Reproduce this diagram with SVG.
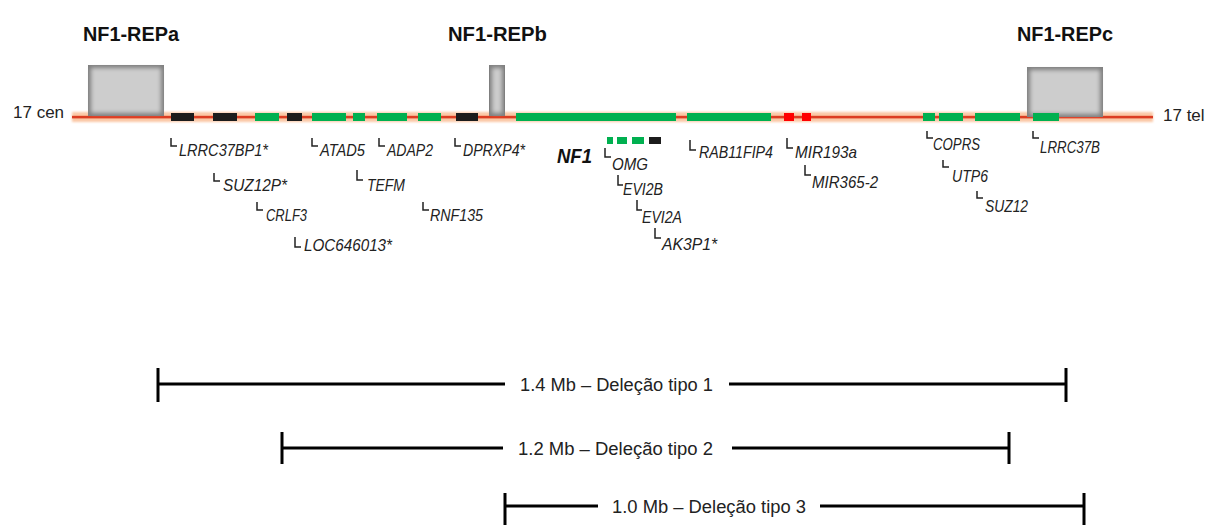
<svg xmlns="http://www.w3.org/2000/svg" width="1214" height="525" viewBox="0 0 1214 525">
  <defs>
    <filter id="soft" x="-20%" y="-20%" width="140%" height="140%">
      <feGaussianBlur stdDeviation="2.2"/>
    </filter>
    <filter id="halo" x="-2%" y="-60%" width="104%" height="220%">
      <feGaussianBlur stdDeviation="1"/>
    </filter>
  </defs>
  <style>
    .title { font-family: "Liberation Sans", Arial, sans-serif; font-weight: bold; font-size: 21px; fill: #111; }
    .end { font-family: "Liberation Sans", Arial, sans-serif; font-size: 17px; fill: #222; }
    .gene { font-family: "Liberation Sans", Arial, sans-serif; font-style: italic; font-size: 17px; fill: #222; }
    .nf1 { font-family: "Liberation Sans", Arial, sans-serif; font-style: italic; font-weight: bold; font-size: 21px; fill: #111; }
    .span { font-family: "Liberation Sans", Arial, sans-serif; font-size: 18px; fill: #222; }
    .tick { fill: none; stroke: #222; stroke-width: 1.5; }
    .bar { stroke: #000; stroke-width: 3; fill: none; }
    .g { fill: #00b050; }
    .k { fill: #1c1c1c; }
    .r { fill: #ff0000; }
    .rep-edge { fill: #7f7f7f; }
    .rep-core { fill: #cdcdcd; filter: url(#soft); }
  </style>

  <!-- chromosome 17 axis: soft peach band with a red core -->
  <g id="chromosome">
    <rect x="72" y="112" width="1081" height="10" fill="#fbc8a6" filter="url(#halo)"/>
    <rect x="72" y="115.8" width="1081" height="2.6" fill="#dc3d22"/>
  </g>

  <!-- low-copy repeats -->
  <g id="rep-a">
    <rect class="rep-edge" x="88" y="65" width="76" height="51"/>
    <rect class="rep-core" x="91" y="68" width="70" height="45"/>
    <text class="title" x="83" y="41" textLength="96" lengthAdjust="spacingAndGlyphs">NF1-REPa</text>
  </g>
  <g id="rep-b">
    <rect class="rep-edge" x="489" y="65" width="16" height="51"/>
    <rect class="rep-core" x="492" y="68" width="10" height="45"/>
    <text class="title" x="448" y="41" textLength="99" lengthAdjust="spacingAndGlyphs">NF1-REPb</text>
  </g>
  <g id="rep-c">
    <rect class="rep-edge" x="1027" y="67" width="76" height="50"/>
    <rect class="rep-core" x="1030" y="70" width="70" height="44"/>
    <text class="title" x="1017" y="41" textLength="96" lengthAdjust="spacingAndGlyphs">NF1-REPc</text>
  </g>

  <!-- chromosome ends -->
  <g id="ends">
    <text class="end" x="13" y="118">17 cen</text>
    <text class="end" x="1163" y="121">17 tel</text>
  </g>

  <!-- genes along the axis -->
  <g id="genes">
    <rect class="k" x="171" y="113" width="23" height="8"/>
    <rect class="k" x="213" y="113" width="24" height="8"/>
    <rect class="g" x="255" y="113" width="24" height="8"/>
    <rect class="k" x="287" y="113" width="15" height="8"/>
    <rect class="g" x="312" y="113" width="34" height="8"/>
    <rect class="g" x="353" y="113" width="12" height="8"/>
    <rect class="g" x="377" y="113" width="30" height="8"/>
    <rect class="g" x="418" y="113" width="23" height="8"/>
    <rect class="k" x="456" y="113" width="22" height="8"/>
    <rect class="g" x="516" y="113" width="160" height="8"/>
    <rect class="g" x="687" y="113" width="84" height="8"/>
    <rect class="r" x="784" y="113" width="10" height="8"/>
    <rect class="r" x="802" y="113" width="9" height="8"/>
    <rect class="g" x="923" y="113" width="12" height="8"/>
    <rect class="g" x="939" y="113" width="24" height="8"/>
    <rect class="g" x="975" y="113" width="45" height="8"/>
    <rect class="g" x="1033" y="113" width="26" height="8"/>
  </g>

  <!-- genes nested inside NF1 -->
  <g id="nf1-inner">
    <rect class="g" x="607" y="137" width="6" height="7"/>
    <rect class="g" x="617" y="137" width="10" height="7"/>
    <rect class="g" x="632" y="137" width="12" height="7"/>
    <rect class="k" x="649" y="137" width="12" height="7"/>
    <text class="nf1" x="557" y="163" textLength="35" lengthAdjust="spacingAndGlyphs">NF1</text>
  </g>

  <!-- label ticks -->
  <g id="connectors">
    <path class="tick" d="M171,138V146H177"/>
    <path class="tick" d="M214,173V181H220"/>
    <path class="tick" d="M257,202V210H263"/>
    <path class="tick" d="M295,237V247H301"/>
    <path class="tick" d="M312,138V146H318"/>
    <path class="tick" d="M379,138V146H385"/>
    <path class="tick" d="M455,138V146H461"/>
    <path class="tick" d="M357,170V180H363"/>
    <path class="tick" d="M423,202V210H429"/>
    <path class="tick" d="M605,148V157H611"/>
    <path class="tick" d="M618,175V185H623"/>
    <path class="tick" d="M637,200V210H642"/>
    <path class="tick" d="M655,228V238H661"/>
    <path class="tick" d="M690,140V150H696"/>
    <path class="tick" d="M787,138V148H793"/>
    <path class="tick" d="M805,165V175H811"/>
    <path class="tick" d="M927,131V138H933"/>
    <path class="tick" d="M943,160V167H949"/>
    <path class="tick" d="M977,191V198H983"/>
    <path class="tick" d="M1033,131V138H1039"/>
  </g>

  <!-- gene names -->
  <g id="labels">
    <text class="gene" x="179" y="156" textLength="89" lengthAdjust="spacingAndGlyphs">LRRC37BP1*</text>
    <text class="gene" x="223" y="191" textLength="64" lengthAdjust="spacingAndGlyphs">SUZ12P*</text>
    <text class="gene" x="266" y="221" textLength="41" lengthAdjust="spacingAndGlyphs">CRLF3</text>
    <text class="gene" x="304" y="251" textLength="88" lengthAdjust="spacingAndGlyphs">LOC646013*</text>
    <text class="gene" x="320" y="156" textLength="45" lengthAdjust="spacingAndGlyphs">ATAD5</text>
    <text class="gene" x="387" y="156" textLength="46" lengthAdjust="spacingAndGlyphs">ADAP2</text>
    <text class="gene" x="463" y="156" textLength="62" lengthAdjust="spacingAndGlyphs">DPRXP4*</text>
    <text class="gene" x="367" y="191" textLength="38" lengthAdjust="spacingAndGlyphs">TEFM</text>
    <text class="gene" x="430" y="221" textLength="53" lengthAdjust="spacingAndGlyphs">RNF135</text>
    <text class="gene" x="612" y="170" textLength="36" lengthAdjust="spacingAndGlyphs">OMG</text>
    <text class="gene" x="623" y="195" textLength="40" lengthAdjust="spacingAndGlyphs">EVI2B</text>
    <text class="gene" x="642" y="223" textLength="40" lengthAdjust="spacingAndGlyphs">EVI2A</text>
    <text class="gene" x="662" y="250" textLength="55" lengthAdjust="spacingAndGlyphs">AK3P1*</text>
    <text class="gene" x="699" y="158" textLength="74" lengthAdjust="spacingAndGlyphs">RAB11FIP4</text>
    <text class="gene" x="795" y="158" textLength="62" lengthAdjust="spacingAndGlyphs">MIR193a</text>
    <text class="gene" x="812" y="188" textLength="66" lengthAdjust="spacingAndGlyphs">MIR365-2</text>
    <text class="gene" x="933" y="150" textLength="47" lengthAdjust="spacingAndGlyphs">COPRS</text>
    <text class="gene" x="952" y="182" textLength="36" lengthAdjust="spacingAndGlyphs">UTP6</text>
    <text class="gene" x="985" y="212" textLength="43" lengthAdjust="spacingAndGlyphs">SUZ12</text>
    <text class="gene" x="1040" y="153" textLength="60" lengthAdjust="spacingAndGlyphs">LRRC37B</text>
  </g>

  <!-- deletion extents -->
  <g id="deletion-1">
    <path class="bar" d="M158,368V402M158,384H505M729,384H1066M1066,368V402"/>
    <text class="span" x="520" y="391" textLength="193" lengthAdjust="spacingAndGlyphs">1.4 Mb – Deleção tipo 1</text>
  </g>
  <g id="deletion-2">
    <path class="bar" d="M282,432V464M282,448H503M732,448H1009M1009,432V464"/>
    <text class="span" x="518" y="455" textLength="195" lengthAdjust="spacingAndGlyphs">1.2 Mb – Deleção tipo 2</text>
  </g>
  <g id="deletion-3">
    <path class="bar" d="M505,493V525M505,506H598M820,506H1084M1084,493V525"/>
    <text class="span" x="612" y="513" textLength="194" lengthAdjust="spacingAndGlyphs">1.0 Mb – Deleção tipo 3</text>
  </g>
</svg>
